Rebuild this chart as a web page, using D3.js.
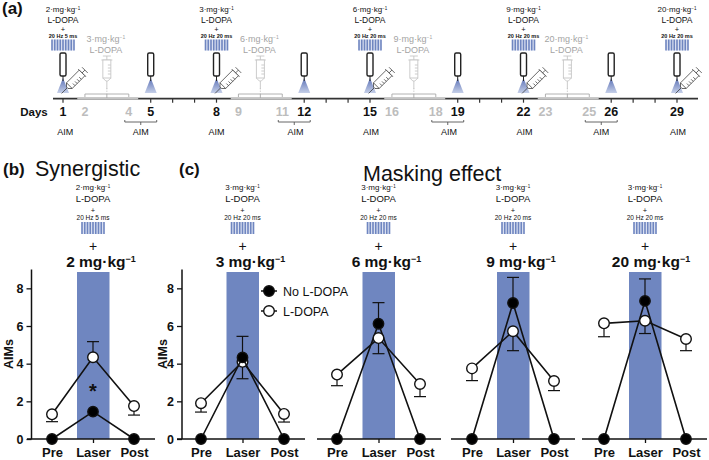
<!DOCTYPE html>
<html><head><meta charset="utf-8">
<style>html,body{margin:0;padding:0;background:#fff}svg{display:block;font-family:"Liberation Sans",Arial,sans-serif}</style>
<script src="https://cdn.jsdelivr.net/npm/d3@7"></script></head><body>
<svg id="c" width="709" height="460"></svg>
<script>
// ---------- data ----------
const phases = ["Pre","Laser","Post"];
const yTicks = [0,2,4,6,8];
const panelDose = ["2 mg·kg","3 mg·kg","6 mg·kg","9 mg·kg","20 mg·kg"];
const panelPre = ["2·mg·kg","3·mg·kg","3·mg·kg","3·mg·kg","3·mg·kg"];
const panelPulse = ["20 Hz 5 ms","20 Hz 20 ms","20 Hz 20 ms","20 Hz 20 ms","20 Hz 20 ms"];
const noDopa = [[0,1.45,0],[0,4.33,0],[0,6.12,0],[0,7.22,0],[0,7.33,0]];
const noDopaUpper = [[null,null,null],[null,5.45,null],[null,7.24,null],[null,8.58,null],[null,8.5,null]];
const withDopa = [[1.31,4.34,1.75],[1.9,4.1,1.33],[3.42,5.36,2.92],[3.75,5.72,3.08],[6.14,6.28,5.31]];
const withDopaLower = [[0.92,null,1.27],[1.43,3.2,0.9],[2.83,4.53,2.25],[3.1,4.69,2.57],[5.43,5.6,4.69]];
const withDopaUpper = [[null,5.17,null],[null,null,null],[null,null,null],[null,null,null],[null,null,null]];
const boldDays = [1,5,8,12,15,19,22,26,29];
const greyDays = [2,4,9,11,16,18,23,25];
const laserDays = [1,8,15,22,29];
const laserDose = ["2·mg·kg","3·mg·kg","6·mg·kg","9·mg·kg","20·mg·kg"];
const laserPulse = ["20 Hz 5 ms","20 Hz 20 ms","20 Hz 20 ms","20 Hz 20 ms","20 Hz 20 ms"];
const probeOnlyDays = [5,12,19,26];
const greyDose = ["3·mg·kg","6·mg·kg","9·mg·kg","20·mg·kg"];
const greyDoseDays = [3,10,17,24];
const aimLabelDays = [1.1,4.55,8,11.6,15.05,18.6,22.05,25.55,29.05];

// ---------- layout ----------
const blue = "#6f86c0", ink = "#111", grey = "#a9a9a9";
const svg = d3.select("#c");
const gA = svg.append("g"), gP = svg.append("g");
const T = (g,x,y,s,size,o={}) => g.append("text").attr("x",x).attr("y",y).attr("font-size",size)
    .attr("text-anchor",o.anchor||"middle").attr("fill",o.fill||ink)
    .attr("font-weight",o.bold?"bold":"normal").text(s);
const sup = (t,size) => { t.append("tspan").attr("font-size",size).attr("dy",-size*0.55).text("−1"); return t; };

const defs = svg.append("defs");
const grad = defs.append("linearGradient").attr("id","cone").attr("x1",0).attr("x2",0).attr("y1",0).attr("y2",1);
grad.append("stop").attr("offset",0).attr("stop-color","#5a70b5");
grad.append("stop").attr("offset",1).attr("stop-color","#c5cfe8");

function pulses(g,cx,y0,h){
  const sc = d3.scaleLinear().domain([0,8]).range([cx-11,cx+11]);
  g.append("rect").attr("x",cx-11).attr("y",y0).attr("width",22).attr("height",h).attr("fill","#dfe4f3");
  g.selectAll(null).data(d3.range(0,9)).join("rect")
    .attr("x",d=>sc(d)-0.8).attr("y",y0).attr("width",1.6).attr("height",h).attr("fill",blue);
}
function probe(g,x,base){
  g.append("path").attr("d",`M${x},${base-21} L${x-6},${base-6} L${x+6},${base-6}Z`).attr("fill","url(#cone)");
  g.append("line").attr("x1",x).attr("x2",x).attr("y1",base-23).attr("y2",base-18).attr("stroke","#222").attr("stroke-width",1);
  g.append("rect").attr("x",x-3).attr("y",base-46).attr("width",6).attr("height",23).attr("rx",1.5)
    .attr("fill","#fff").attr("stroke","#222").attr("stroke-width",1.4);
}
function syringe(g,x,y,rot,col,sw){
  const s = g.append("g").attr("transform",`translate(${x},${y}) rotate(${rot})`)
    .attr("fill","#fff").attr("stroke",col).attr("stroke-width",sw);
  s.append("path").attr("fill","none").attr("d","M-4,-14 H4 M0,-14 V-10 M-5.5,-10 H5.5");
  s.append("rect").attr("x",-4).attr("y",-10).attr("width",8).attr("height",18);
  s.append("path").attr("fill","none").attr("d","M-4,8 L-1,11 H1 L4,8 M0,11 V19 M1,-5 H4 M1,-2 H4 M1,1 H4 M1,4 H4");
}

// ---------- panel (a) ----------
T(gA,2,14,"(a)",17,{anchor:"start",bold:true});
const xDay = d3.scaleLinear().domain([1,29]).range([63,677]);
const tlY = 98.7;
const seg = (g,a,b,c)=>g.append("line").attr("x1",a).attr("x2",b).attr("y1",tlY).attr("y2",tlY).attr("stroke",c).attr("stroke-width",1.8);
seg(gA,53,698,"#333");
greyDoseDays.forEach(d=>seg(gA,xDay(d-1.35),xDay(d+1.43),"#c4c4c4"));
gA.selectAll(null).data(d3.range(1,30).filter(d=>!greyDoseDays.some(g=>Math.abs(g-d)<=1))).join("line")
  .attr("x1",d=>xDay(d)).attr("x2",d=>xDay(d)).attr("y1",tlY).attr("y2",tlY+4).attr("stroke","#333").attr("stroke-width",1.2);
boldDays.forEach(d=>T(gA,xDay(d),115.5,d,12.5,{bold:true}));
greyDays.forEach(d=>T(gA,xDay(d),115.5,d,12.5,{bold:true,fill:"#bdbdbd"}));
T(gA,34,115.5,"Days",11.5,{bold:true});
aimLabelDays.forEach(d=>T(gA,xDay(d),135,"AIM",9));
greyDoseDays.forEach((d,i)=>{
  const a=xDay(d-1),b=xDay(d+1),m=xDay(d);
  gA.append("path").attr("fill","none").attr("stroke",grey).attr("stroke-width",.9)
    .attr("d",`M${a},97 V94 H${b} V97 M${m},94 V98`);
  sup(T(gA,m-1,42,greyDose[i],9,{fill:"#a4a4a4"}),5);
  T(gA,m-1,53,"L-DOPA",9,{fill:"#a4a4a4"});
  syringe(gA,m,70,0,"#c6c6c6",.9);
  gA.append("line").attr("x1",m).attr("x2",m).attr("y1",88).attr("y2",94).attr("stroke","#c6c6c6").attr("stroke-width",.8).attr("stroke-dasharray","1.5,1");
  const e=xDay(d+2);
  gA.append("path").attr("fill","none").attr("stroke","#555").attr("stroke-width",.9)
    .attr("d",`M${b-4},120 V122 H${e+6} V120 M${(b+e)/2+1},122 V125`);
});
laserDays.forEach((d,i)=>{
  const x=xDay(d);
  sup(T(gA,x,12,laserDose[i],8),4.5);
  T(gA,x,23,"L-DOPA",8.5);
  T(gA,x,31.5,"+",7.5);
  T(gA,x,38,laserPulse[i],5.5,{bold:true});
  pulses(gA,x,39.5,11);
  probe(gA,x,99);
  syringe(gA,x+12,80,45,"#333",.7);
});
probeOnlyDays.forEach(d=>probe(gA,xDay(d),99));

// ---------- panels (b), (c) ----------
T(gP,3,175,"(b)",17,{anchor:"start",bold:true});
T(gP,35,176,"Synergistic",21.5,{anchor:"start"});
T(gP,179,175,"(c)",17,{anchor:"start",bold:true});
T(gP,363,180.5,"Masking effect",21.5,{anchor:"start"});

const y = d3.scaleLinear().domain([0,9]).range([439,269.5]);
const axisSpan = [[27,155],[177,305],[317,441],[451,575],[582,707]];
const xRanges = [[52,134],[201,284],[337,420],[472,554],[604,686]];
const whiteFirst = [false,true,false,false,false];

panelDose.forEach((dose,i)=>{
  const g = gP.append("g");
  const x = d3.scalePoint().domain(phases).range(xRanges[i]);
  const lx = x("Laser");
  // headers
  sup(T(g,lx,190,panelPre[i],8),4.5);
  T(g,lx,202,"L-DOPA",9.5);
  T(g,lx,212.5,"+",7.5);
  T(g,lx,220,panelPulse[i],6.5);
  pulses(g,lx,222,12);
  T(g,lx,251,"+",14);
  sup(T(g,lx+(dose.length>7?6:8),267,dose,15.5,{bold:true}),9);
  // laser band
  g.append("rect").attr("x",lx-16).attr("width",32.5).attr("y",272).attr("height",y(0)-272).attr("fill",blue);
  // axes
  const ax = g.append("g").attr("transform",`translate(0,${y(0)})`)
    .call(d3.axisBottom(x).tickSize(4).tickPadding(4.5).tickSizeOuter(0));
  ax.select(".domain").attr("d",`M${axisSpan[i][0]},0 H${axisSpan[i][1]}`).attr("stroke",ink).attr("stroke-width",1.5);
  ax.selectAll(".tick line").attr("stroke",ink).attr("stroke-width",1.3);
  ax.selectAll("text").attr("font-size",13).attr("font-weight","bold").attr("font-family","Liberation Sans").attr("fill",ink);
  if(i<2){
    const ox = i===0?31.5:182;
    const ay = g.append("g").attr("transform",`translate(${ox},0)`)
      .call(d3.axisLeft(y).tickValues(yTicks).tickSize(5).tickPadding(3).tickSizeOuter(0));
    ay.select(".domain").attr("d",`M0,${y(0)} V${y(9)}`).attr("stroke",ink).attr("stroke-width",1.5);
    ay.selectAll(".tick line").attr("stroke",ink).attr("stroke-width",1.3);
    ay.selectAll("text").attr("font-size",12.5).attr("font-weight","bold").attr("font-family","Liberation Sans").attr("fill",ink);
    T(g,0,0,"AIMs",12.5,{bold:true}).attr("transform",`translate(${i===0?13:167},354) rotate(-90)`);
  }
  const line = d3.line().x((d,j)=>x(phases[j])).y(d=>y(d));
  const drawSeries = (vals,fill,r,ups,lows)=>{
    const s = g.append("g");
    vals.forEach((v,j)=>{
      [ups[j],lows[j]].forEach(e=>{
        if(e==null) return;
        const px=x(phases[j]);
        s.append("line").attr("x1",px).attr("x2",px).attr("y1",y(v)).attr("y2",y(e)).attr("stroke",ink).attr("stroke-width",1.2);
        s.append("line").attr("x1",px-6).attr("x2",px+6).attr("y1",y(e)).attr("y2",y(e)).attr("stroke",ink).attr("stroke-width",1.2);
      });
    });
    s.append("path").attr("d",line(vals)).attr("fill","none").attr("stroke",ink).attr("stroke-width",1.6);
    s.selectAll("circle").data(vals).join("circle")
      .attr("cx",(d,j)=>x(phases[j])).attr("cy",d=>y(d)).attr("r",r)
      .attr("fill",fill).attr("stroke",ink).attr("stroke-width",1.4);
  };
  const blank=[null,null,null];
  const A=()=>drawSeries(noDopa[i],"#000",5.2,noDopaUpper[i],blank);
  const B=()=>drawSeries(withDopa[i],"#fff",5.3,withDopaUpper[i],withDopaLower[i]);
  if(whiteFirst[i]){B();A();}else{A();B();}
  if(i===0) T(g,lx,398,"*",20,{bold:true});
  if(i===1){
    const leg=[["No L-DOPA","#000",291],["L-DOPA","#fff",311]];
    leg.forEach(([s,f,ly])=>{
      g.append("line").attr("x1",261).attr("x2",277).attr("y1",ly).attr("y2",ly).attr("stroke",ink).attr("stroke-width",1.5);
      g.append("circle").attr("cx",269).attr("cy",ly).attr("r",5.3).attr("fill",f).attr("stroke",ink).attr("stroke-width",1.4);
      T(g,283,ly+4.5,s,12.5,{anchor:"start"});
    });
  }
});
</script></body></html>
